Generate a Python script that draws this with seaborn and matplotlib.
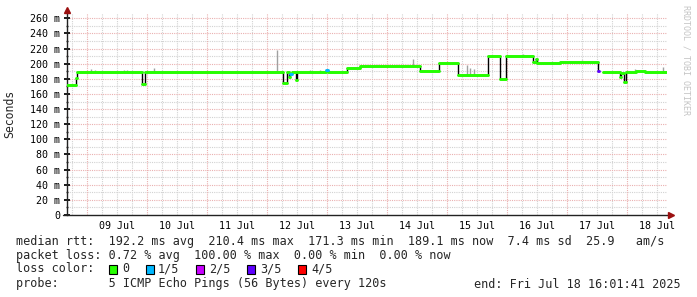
import matplotlib
matplotlib.use("Agg")
import matplotlib.pyplot as plt
import matplotlib.dates as mdates
from matplotlib.patches import Rectangle
import numpy as np
import pandas as pd
import seaborn as sns

# ---------------- data ----------------
start_time = "2025-07-08 16:01:41"
end_time = "2025-07-18 16:01:41"

# median rtt steps (time, value in ms, loss level 0..4); NaN = no data
med_times = [
    "2025-07-08 16:02", "2025-07-08 19:26", "2025-07-08 19:50", "2025-07-09 21:50",
    "2025-07-09 22:02", "2025-07-09 23:14", "2025-07-12 06:14", "2025-07-12 08:08",
    "2025-07-12 08:38", "2025-07-12 09:02", "2025-07-12 09:50", "2025-07-12 11:26",
    "2025-07-12 12:02", "2025-07-12 23:38", "2025-07-13 00:14", "2025-07-13 07:50",
    "2025-07-13 13:14", "2025-07-14 13:02", "2025-07-14 20:38", "2025-07-15 04:14",
    "2025-07-15 16:14", "2025-07-15 21:02", "2025-07-15 23:26", "2025-07-16 10:20",
    "2025-07-16 11:38", "2025-07-16 12:02", "2025-07-16 21:14", "2025-07-17 12:20",
    "2025-07-17 12:50", "2025-07-17 14:20", "2025-07-17 21:02", "2025-07-17 21:38",
    "2025-07-17 22:50", "2025-07-17 23:38", "2025-07-18 03:38", "2025-07-18 07:14",
    "2025-07-18 15:50",
]
med_values = [
    171.6, 181.0, 189.5, 180.0,
    173.5, 189.5, 174.0, 189.5,
    182.0, 187.0, 189.5, 179.0,
    189.5, 191.0, 189.5, 194.5,
    196.5, 190.0, 200.5, 184.8,
    209.8, 180.4, 210.0, 202.0,
    206.0, 201.5, 202.5, 190.0,
    np.nan, 189.5, 182.0, 188.0,
    176.0, 189.5, 190.5, 189.5,
    189.5,
]
med_loss = [
    0, 0, 0, 0,
    0, 0, 0, 0,
    0, 1, 0, 0,
    0, 1, 0, 0,
    0, 0, 0, 0,
    0, 0, 0, 0,
    0, 0, 0, 3,
    0, 0, 0, 0,
    0, 0, 0, 0,
    0,
]

# smoke (ping spread) spikes
smoke_times = [
    "2025-07-09 01:44", "2025-07-09 03:14", "2025-07-09 14:44", "2025-07-09 16:02",
    "2025-07-10 02:56", "2025-07-12 04:08", "2025-07-12 17:14", "2025-07-12 21:14",
    "2025-07-14 08:26", "2025-07-14 10:20", "2025-07-15 07:56", "2025-07-15 09:14",
    "2025-07-15 10:50", "2025-07-16 06:32", "2025-07-16 12:02", "2025-07-17 05:56",
    "2025-07-18 03:14", "2025-07-18 14:32",
]
smoke_low = [189, 189, 189, 189, 189, 189, 189, 189, 196, 196, 185, 185, 185, 210, 200, 202, 189, 189]
smoke_high = [193.6, 191.5, 191.5, 191.5, 194.0, 217.8, 192.0, 192.0, 197.5, 206.5, 198.5, 194.0,
              193.5, 212.5, 207.0, 204.5, 193.5, 196.0]

y_ticks = [0, 20, 40, 60, 80, 100, 120, 140, 160, 180, 200, 220, 240, 260]
y_tick_labels = ["0", "20 m", "40 m", "60 m", "80 m", "100 m", "120 m", "140 m", "160 m",
                 "180 m", "200 m", "220 m", "240 m", "260 m"]
x_label_days = ["2025-07-09", "2025-07-10", "2025-07-11", "2025-07-12", "2025-07-13",
                "2025-07-14", "2025-07-15", "2025-07-16", "2025-07-17", "2025-07-18"]
x_tick_labels = ["09 Jul", "10 Jul", "11 Jul", "12 Jul", "13 Jul", "14 Jul", "15 Jul",
                 "16 Jul", "17 Jul", "18 Jul"]

loss_levels = ["0", "1/5", "2/5", "3/5", "4/5"]
loss_colors = ["#26ff00", "#00b8ff", "#c800ff", "#5e00ff", "#ff0000"]

legend_lines = [
    "median rtt:  192.2 ms avg  210.4 ms max  171.3 ms min  189.1 ms now  7.4 ms sd  25.9   am/s",
    "packet loss: 0.72 % avg  100.00 % max  0.00 % min  0.00 % now",
]
probe_text = "probe:       5 ICMP Echo Pings (56 Bytes) every 120s"
end_text = "end: Fri Jul 18 16:01:41 2025"

# ---------------- figure ----------------
sns.set_theme(style="white")
plt.rcParams["font.family"] = ["DejaVu Sans Mono", "DejaVu Sans"]

W, H = 697, 297
fig = plt.figure(figsize=(W / 100, H / 100), dpi=100)
fig.patch.set_facecolor("white")
ax_l, ax_r, ax_b, ax_t = 67, 667, 215, 13
ax = fig.add_axes([ax_l / W, 1 - ax_b / H, (ax_r - ax_l) / W, (ax_b - ax_t) / H])
ax.set_facecolor("white")

t0 = pd.Timestamp(start_time)
t1 = pd.Timestamp(end_time)
ax.set_xlim(t0, t1)
ax.set_ylim(0, 267)

# grid
red_grid = "#eab0b0"
gray_grid = "#d2d2d2"
dot = (0, (1, 1))
ax.set_yticks(y_ticks)
ax.set_yticklabels(y_tick_labels)
ax.yaxis.set_minor_locator(matplotlib.ticker.MultipleLocator(10))
ax.grid(False)
for v in np.arange(10, 267, 20):
    ax.axhline(v, color=gray_grid, lw=0.8, ls=dot, zorder=0)
for v in y_ticks[1:]:
    ax.axhline(v, color=red_grid, lw=0.8, ls=dot, zorder=0.5)

noons = [pd.Timestamp(d) + pd.Timedelta(hours=12) for d in x_label_days]
ax.set_xticks(noons)
ax.set_xticklabels(x_tick_labels)
six_h = pd.date_range(pd.Timestamp("2025-07-08 18:00"), t1, freq="6h")
for t in six_h:
    if t.hour == 0:
        ax.axvline(t, color=red_grid, lw=0.8, ls=dot, zorder=0.5)
    else:
        ax.axvline(t, color=gray_grid, lw=0.8, ls=dot, zorder=0)
ax.xaxis.set_minor_locator(mdates.HourLocator(byhour=[0, 6, 12, 18]))
ax.xaxis.remove_overlapping_locs = False

ax.tick_params(axis="x", which="major", length=0, pad=4, labelsize=7.2, colors="black")
ax.tick_params(axis="x", which="minor", length=2, direction="inout", color="#333333")
ax.tick_params(axis="y", which="major", length=4, direction="inout", pad=3, labelsize=7.2,
               colors="black", left=True)
ax.tick_params(axis="y", which="minor", length=2, direction="inout", left=True, color="#333333")

for s in ["top", "right", "bottom"]:
    ax.spines[s].set_visible(False)
ax.spines["left"].set_color("#222222")
ax.spines["left"].set_linewidth(1)
ax.spines["left"].set_bounds(0, 267)

# bottom axis line + arrows
ax.plot([-4 / 600, 1.005], [0, 0], transform=ax.transAxes, clip_on=False, color="#222222", lw=1,
        zorder=5)
ax.plot([1.006], [0], marker=">", ms=4, color="#9b1010", transform=ax.transAxes, clip_on=False,
        zorder=6)
ax.plot([0], [1.0 + 3 / 202], marker="^", ms=4, color="#9b1010", transform=ax.transAxes,
        clip_on=False, zorder=6)

# smoke
smoke_df = pd.DataFrame({"t": pd.to_datetime(smoke_times), "lo": smoke_low, "hi": smoke_high})
ax.vlines(smoke_df["t"], smoke_df["lo"], smoke_df["hi"], colors="#a0a0a0", lw=1, zorder=2)

# median black step line
mt = pd.to_datetime(med_times)
mv = np.array(med_values, dtype=float)
part = np.cumsum(np.isnan(mv))
step_df = pd.DataFrame({"t": mt, "v": mv, "part": part}).dropna()
sns.lineplot(data=step_df, x="t", y="v", units="part", estimator=None, drawstyle="steps-post",
             color="black", lw=1.0, ax=ax, zorder=3, legend=False)

# median coloured segments
rows = []
for i in range(len(mt) - 1):
    if np.isnan(mv[i]):
        continue
    lvl = loss_levels[med_loss[i]]
    rows.append({"seg": i, "t": mt[i], "v": mv[i], "loss": lvl})
    rows.append({"seg": i, "t": mt[i + 1], "v": mv[i], "loss": lvl})
seg_df = pd.DataFrame(rows)
sns.lineplot(data=seg_df, x="t", y="v", units="seg", estimator=None, hue="loss",
             hue_order=loss_levels, palette=dict(zip(loss_levels, loss_colors)),
             lw=2.1, ax=ax, zorder=4, legend=False)

ax.set_xlabel("")
ax.set_ylabel("")
ax.set_xlim(t0, t1)
ax.set_ylim(0, 267)

# labels
fig.text(10 / W, 1 - 114 / H, "Seconds", rotation=90, ha="center", va="center", fontsize=8.3)
fig.text(686 / W, 1 - 5 / H, "RRDTOOL / TOBI OETIKER", rotation=270, ha="center", va="top",
         fontsize=6, color="#c4c4c4")

fs = 8.5
fig.text(16 / W, 1 - 241 / H, legend_lines[0], ha="left", va="center", fontsize=fs)
fig.text(16 / W, 1 - 255 / H, legend_lines[1], ha="left", va="center", fontsize=fs)
fig.text(16 / W, 1 - 269 / H, "loss color:", ha="left", va="center", fontsize=fs)
box_x = [108.5, 145.5, 196, 247, 298]
lab_x = [122, 158, 209, 260, 311]
for bx, lx, c, lab in zip(box_x, lab_x, loss_colors, loss_levels):
    fig.patches.append(Rectangle((bx / W, 1 - 273.5 / H), 8 / W, 9 / H, transform=fig.transFigure,
                                 facecolor=c, edgecolor="black", lw=0.8))
    fig.text(lx / W, 1 - 269 / H, lab, ha="left", va="center", fontsize=fs)
fig.text(16 / W, 1 - 284 / H, probe_text, ha="left", va="center", fontsize=fs)
fig.text(681 / W, 1 - 284 / H, end_text, ha="right", va="center", fontsize=fs)

fig.savefig("out.png", dpi=100, facecolor="white")
